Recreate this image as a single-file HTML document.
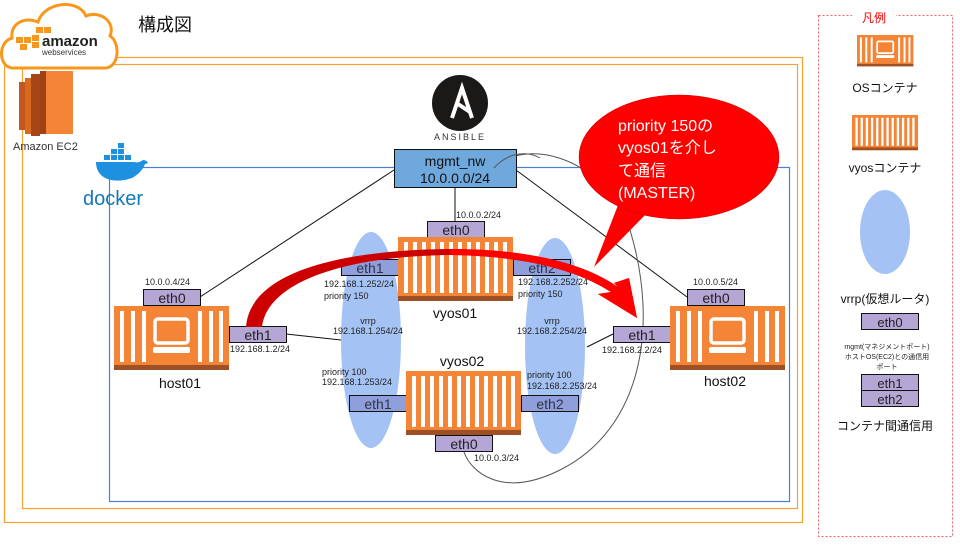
<!DOCTYPE html>
<html><head><meta charset="utf-8"><style>
body{margin:0;background:#fff;width:960px;height:540px;overflow:hidden}
svg text{font-family:"Liberation Sans","Noto Sans CJK JP",sans-serif}
</style></head><body>
<svg width="960" height="540" viewBox="0 0 960 540" xmlns="http://www.w3.org/2000/svg">
<defs>
<g id="vy">
<rect x="0" y="0" width="115" height="64" fill="#f58536"/>
<rect x="0" y="59" width="115" height="5" fill="#9d5025"/>
<g fill="#fff">
<rect x="6" y="5" width="4" height="51"/><rect x="15" y="5" width="4" height="51"/><rect x="24" y="5" width="4" height="51"/><rect x="33" y="5" width="4" height="51"/><rect x="42" y="5" width="4" height="51"/><rect x="51" y="5" width="4" height="51"/><rect x="60" y="5" width="4" height="51"/><rect x="69" y="5" width="4" height="51"/><rect x="78" y="5" width="4" height="51"/><rect x="87" y="5" width="4" height="51"/><rect x="96" y="5" width="4" height="51"/><rect x="105" y="5" width="4" height="51"/>
</g></g>
<g id="ho">
<rect x="0" y="0" width="115" height="64" fill="#f58536"/>
<rect x="0" y="59" width="115" height="5" fill="#9d5025"/>
<g fill="#fff">
<rect x="6" y="5" width="4" height="51"/><rect x="17" y="5" width="4" height="51"/><rect x="28" y="5" width="4" height="51"/>
<rect x="84" y="5" width="4" height="51"/><rect x="95" y="5" width="4" height="51"/><rect x="105" y="5" width="4" height="51"/>
</g>
<rect x="41" y="13" width="33" height="24" rx="3" fill="none" stroke="#fff" stroke-width="3.5"/>
<rect x="39" y="41" width="37" height="6" rx="2" fill="#fff"/>
</g>
</defs>

<!-- frames -->
<rect x="4.5" y="57.5" width="798" height="465" fill="none" stroke="#f9a12e" stroke-width="1.2"/>
<rect x="22.5" y="64.5" width="775" height="444" fill="none" stroke="#f9a12e" stroke-width="1.2"/>
<rect x="109.5" y="167.5" width="680" height="334" fill="none" stroke="#4a7fd8" stroke-width="1.2"/>

<!-- aws cloud -->
<path d="M12,68 C-2,66 -2,42 12,38 C10,24 24,16 38,22 C44,2 78,-2 86,16 C100,10 116,22 110,36 C120,42 120,66 106,68 Z" fill="#fff" stroke="#f7981d" stroke-width="3"/>
<g fill="#f7981d"><rect x="16" y="37" width="7" height="6"/><rect x="24" y="37" width="7" height="6"/><rect x="20" y="44" width="7" height="6"/><rect x="36" y="27" width="7" height="6"/><rect x="44" y="27" width="7" height="6"/><rect x="32" y="35" width="7" height="6"/><rect x="32" y="42" width="7" height="6"/></g>
<text x="42" y="46" font-size="15" font-weight="bold" fill="#222">amazon</text>
<text x="42" y="55" font-size="8" fill="#333">webservices</text>
<text x="138" y="31" font-size="18" fill="#111">構成図</text>
<!-- ec2 -->
<g>
<rect x="19" y="82" width="8" height="48" fill="#c4571f"/>
<rect x="25" y="78" width="8" height="56" fill="#d8691f"/>
<rect x="31" y="74" width="9" height="62" fill="#a64618"/>
<rect x="40" y="71" width="33" height="63" fill="#f58536"/>
<rect x="40" y="71" width="6" height="63" fill="#9e4215"/>
</g>
<text x="13" y="150" font-size="11" fill="#333">Amazon EC2</text>
<!-- docker -->
<path d="M96,162 C96,180 115,184 132,178 C140,174 144,167 145,164 C150,164 147,160 143,160 C140,162 138,163 134,162 Z" fill="#1d91e0"/>
<g fill="#1d91e0"><rect x="104" y="155" width="6" height="5"/><rect x="111" y="155" width="6" height="5"/><rect x="118" y="155" width="6" height="5"/><rect x="111" y="149" width="6" height="5"/><rect x="118" y="149" width="6" height="5"/><rect x="118" y="143" width="6" height="5"/><rect x="125" y="155" width="6" height="5"/></g>
<text x="83" y="205" font-size="20" fill="#1478b8">docker</text>

<!-- ansible -->
<circle cx="460" cy="103" r="28" fill="#1a1918"/>
<path d="M452,118 L462,88 L472,118 M458,104 L470,112" stroke="#fff" stroke-width="4" fill="none"/>
<text x="460" y="140" font-size="9" fill="#333" text-anchor="middle" letter-spacing="2">ANSIBLE</text>

<!-- lines -->
<g stroke="#111" stroke-width="1" fill="none">
<line x1="394" y1="170" x2="200" y2="297"/>
<line x1="516" y1="170" x2="687" y2="297"/>
<line x1="455" y1="187" x2="455" y2="222"/>
<line x1="286" y1="334" x2="341" y2="340"/>
<line x1="613" y1="334" x2="587" y2="347"/>
</g>
<path d="M494,168 C520,140 600,150 630,230 C660,330 640,430 560,470 C500,500 470,470 464,452" stroke="#555" stroke-width="1" fill="none"/>

<!-- ellipses -->
<ellipse cx="371" cy="340" rx="30" ry="108" fill="#a4c2f4"/>
<ellipse cx="555" cy="346" rx="30" ry="108" fill="#a4c2f4"/>

<!-- eth boxes -->
<g fill="#b4a7d6" stroke="#111" stroke-width="1">
<rect x="427.5" y="221.5" width="57" height="16"/>
<rect x="341.5" y="259.5" width="57" height="16" fill="#8e9fdc"/>
<rect x="513.5" y="259.5" width="57" height="16" fill="#8e9fdc"/>
<rect x="349.5" y="395.5" width="57" height="16" fill="#8e9fdc"/>
<rect x="521.5" y="395.5" width="57" height="16" fill="#8e9fdc"/>
<rect x="435.5" y="435.5" width="57" height="16"/>
<rect x="143.5" y="289.5" width="57" height="16"/>
<rect x="229.5" y="326.5" width="57" height="16"/>
<rect x="687.5" y="289.5" width="57" height="16"/>
<rect x="613.5" y="326.5" width="57" height="16"/>
</g>
<g font-size="14" fill="#222" text-anchor="middle">
<text x="456" y="235">eth0</text>
<text x="370" y="273" fill="#334">eth1</text>
<text x="542" y="273" fill="#334">eth2</text>
<text x="378" y="409" fill="#334">eth1</text>
<text x="550" y="409" fill="#334">eth2</text>
<text x="464" y="449">eth0</text>
<text x="172" y="303">eth0</text>
<text x="258" y="340">eth1</text>
<text x="716" y="303">eth0</text>
<text x="642" y="340">eth1</text>
</g>

<!-- containers -->
<use href="#vy" x="398" y="237"/>
<use href="#vy" x="406" y="371"/>
<use href="#ho" x="114" y="306"/>
<use href="#ho" x="670" y="306"/>

<!-- mgmt_nw -->
<rect x="394.5" y="149.5" width="122" height="38" fill="#6fa8dc" stroke="#111"/>
<text x="455" y="166" font-size="14" text-anchor="middle" fill="#111">mgmt_nw</text>
<text x="455" y="183" font-size="14" text-anchor="middle" fill="#111">10.0.0.0/24</text>
<path d="M494,168 C510,150 530,152 540,158" stroke="#555" fill="none"/>

<!-- small labels -->
<g font-size="9" fill="#222">
<text x="456" y="218">10.0.0.2/24</text>
<text x="324" y="287">192.168.1.252/24</text>
<text x="324" y="299">priority 150</text>
<text x="518" y="285">192.168.2.252/24</text>
<text x="518" y="297">priority 150</text>
<text x="368" y="324" text-anchor="middle">vrrp</text>
<text x="368" y="334" text-anchor="middle">192.168.1.254/24</text>
<text x="552" y="324" text-anchor="middle">vrrp</text>
<text x="552" y="334" text-anchor="middle">192.168.2.254/24</text>
<text x="322" y="375">priority 100</text>
<text x="322" y="385">192.168.1.253/24</text>
<text x="527" y="378">priority 100</text>
<text x="527" y="389">192.168.2.253/24</text>
<text x="474" y="461">10.0.0.3/24</text>
<text x="145" y="285">10.0.0.4/24</text>
<text x="230" y="352">192.168.1.2/24</text>
<text x="693" y="285">10.0.0.5/24</text>
<text x="602" y="353">192.168.2.2/24</text>
</g>
<g font-size="14" fill="#111" text-anchor="middle">
<text x="455" y="318">vyos01</text>
<text x="462" y="366">vyos02</text>
<text x="180" y="388">host01</text>
<text x="725" y="386">host02</text>
</g>

<!-- red arrow -->
<path d="M246,327 C250,272 340,250 450,249 C530,249 585,264 618,287 L614,283 L629,278 L637,318 L598,294 L611,292 C580,272 530,256 450,255 C350,256 268,280 262,327 Z" fill="#cc0000"/>
<path d="M450,249 C530,249 585,264 618,287 L614,283 L629,278 L637,318 L598,294 L611,292 C580,272 530,256 450,255 Z" fill="#ff0000"/>

<!-- callout -->
<path d="M620,200 L594,267 L650,210 Z" fill="#ff0000"/>
<ellipse cx="679" cy="157" rx="100" ry="62" fill="#ff0000" stroke="#c00" stroke-width="0.5"/>
<g font-size="16" fill="#fff">
<text x="618" y="131">priority 150の</text>
<text x="618" y="153">vyos01を介し</text>
<text x="618" y="176">て通信</text>
<text x="618" y="198">(MASTER)</text>
</g>

<!-- legend -->
<rect x="818.5" y="15.5" width="134" height="521" fill="none" stroke="#f06060" stroke-dasharray="2,2"/>
<rect x="852" y="8" width="44" height="14" fill="#fff"/>
<text x="874" y="22" font-size="12" fill="#f00" text-anchor="middle">凡例</text>
<g transform="translate(857,35) scale(0.49,0.49)"><use href="#ho"/></g>
<text x="885" y="92" font-size="12" fill="#111" text-anchor="middle">OSコンテナ</text>
<g transform="translate(852,115) scale(0.574,0.55)"><use href="#vy"/></g>
<text x="885" y="172" font-size="12" fill="#111" text-anchor="middle">vyosコンテナ</text>
<ellipse cx="885" cy="232" rx="25" ry="42" fill="#a4c2f4"/>
<text x="885" y="303" font-size="12" fill="#111" text-anchor="middle">vrrp(仮想ルータ)</text>
<rect x="861.5" y="313.5" width="57" height="16" fill="#b4a7d6" stroke="#111"/>
<text x="890" y="327" font-size="13" fill="#222" text-anchor="middle">eth0</text>
<g font-size="7" fill="#222" text-anchor="middle">
<text x="887" y="349">mgmt(マネジメントポート)</text>
<text x="887" y="359">ホストOS(EC2)との通信用</text>
<text x="887" y="369">ポート</text>
</g>
<rect x="861.5" y="374.5" width="57" height="16" fill="#b4a7d6" stroke="#111"/>
<rect x="861.5" y="390.5" width="57" height="16" fill="#b4a7d6" stroke="#111"/>
<text x="890" y="388" font-size="13" fill="#222" text-anchor="middle">eth1</text>
<text x="890" y="404" font-size="13" fill="#222" text-anchor="middle">eth2</text>
<text x="885" y="430" font-size="12" fill="#111" text-anchor="middle">コンテナ間通信用</text>
</svg>
</body></html>
